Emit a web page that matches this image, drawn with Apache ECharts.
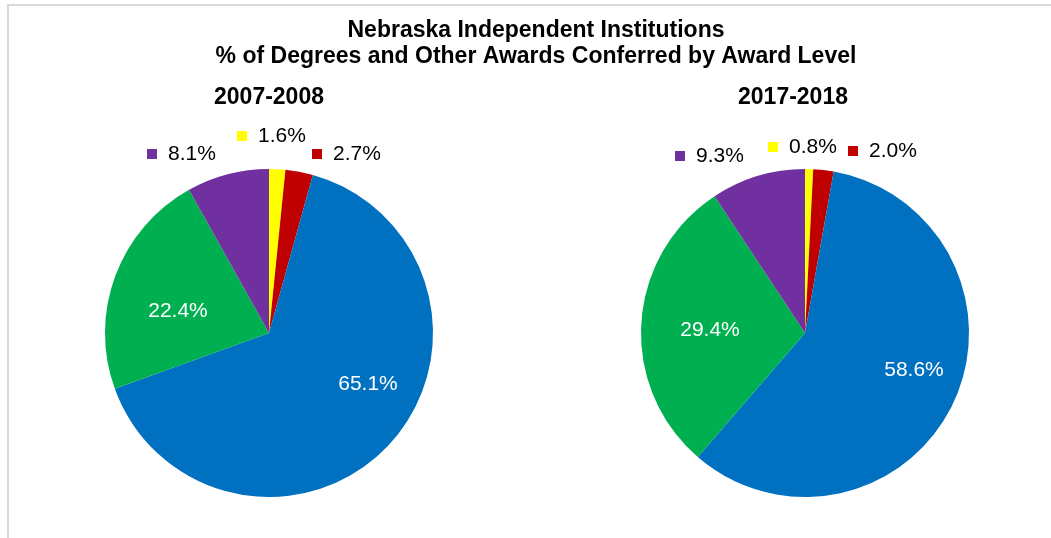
<!DOCTYPE html>
<html>
<head>
<meta charset="utf-8">
<script src="https://cdn.jsdelivr.net/npm/echarts@6/dist/echarts.min.js"></script>
<style>
  html, body { margin: 0; padding: 0; background: #fff; }
  #main { width: 1051px; height: 538px; }
</style>
</head>
<body>
<div id="main"></div>
<script>
// award levels, clockwise from 12 o'clock
var levels = ['Certificates', 'Associate', "Bachelor's", "Master's", 'Doctoral'];
var levelColors = ['#FFFF00', '#C00000', '#0070C0', '#00B050', '#7030A0'];
var years = ['2007-2008', '2017-2018'];
var share2008 = [1.6, 2.7, 65.1, 22.4, 8.1];
var share2018 = [0.8, 2.0, 58.6, 29.4, 9.3];

var chartDom = document.getElementById('main');
var myChart = echarts.init(chartDom);
var option;

var font = 'Liberation Sans, Arial, sans-serif';
var labelSize = 21;
var insideIdx = [2, 3];

// where Excel put each label: [x, y]; outside ones are left edge of the key square
var labelSpots = [
  [[237, 136], [312, 154], [368, 384], [178, 311], [147, 154]],
  [[768, 147], [848, 151], [914, 370], [710, 330], [675, 156]]
];
var centers = [[269, 333], [805, 333]];

function pct(p) {
  return Number(p.value).toFixed(1) + '%';
}

function buildData(values) {
  return values.map(function (v, i) {
    var inside = insideIdx.indexOf(i) >= 0;
    return {
      name: levels[i],
      value: v,
      itemStyle: { color: levelColors[i] },
      label: inside ? {
        color: '#fff',
        fontSize: labelSize,
        formatter: function (p) { return pct(p); }
      } : {
        color: '#000',
        fontSize: labelSize,
        formatter: function (p) { return '{sq|}{t|' + pct(p) + '}'; },
        rich: {
          sq: { width: 10, height: 10, backgroundColor: levelColors[i] },
          t: { color: '#000', fontSize: labelSize, fontFamily: font, padding: [0, 0, 0, 11] }
        }
      }
    };
  });
}

var allShares = [share2008, share2018];
var headStyle = { fontFamily: font, fontSize: 23, fontWeight: 'bold', color: '#000' };

option = {
  backgroundColor: '#fff',
  animation: false,
  title: [
    {
      text: 'Nebraska Independent Institutions\n% of Degrees and Other Awards Conferred by Award Level',
      left: 536, top: 18, textAlign: 'center', padding: 0,
      textStyle: Object.assign({}, headStyle, { lineHeight: 26 })
    },
    { text: years[0], left: 269, top: 86, textAlign: 'center', padding: 0, textStyle: headStyle },
    { text: years[1], left: 793, top: 86, textAlign: 'center', padding: 0, textStyle: headStyle }
  ],
  graphic: [
    {
      type: 'rect', silent: true,
      shape: { x: 8, y: 5, width: 1200, height: 700 },
      style: { fill: 'none', stroke: '#d9d9d9', lineWidth: 2 }
    }
  ],
  series: allShares.map(function (vals, s) {
    return {
      type: 'pie',
      name: years[s],
      center: centers[s],
      radius: 164,
      startAngle: 90,
      clockwise: true,
      avoidLabelOverlap: false,
      label: { show: true, position: 'inside', fontSize: labelSize, fontFamily: font },
      labelLine: { show: false },
      labelLayout: function (p) {
        var spot = labelSpots[p.seriesIndex][p.dataIndex];
        var inside = insideIdx.indexOf(p.dataIndex) >= 0;
        return {
          x: spot[0], y: spot[1],
          align: inside ? 'center' : 'left',
          verticalAlign: 'middle'
        };
      },
      itemStyle: { borderWidth: 0 },
      emphasis: { disabled: true },
      data: buildData(vals)
    };
  })
};

option && myChart.setOption(option);
</script>
</body>
</html>
